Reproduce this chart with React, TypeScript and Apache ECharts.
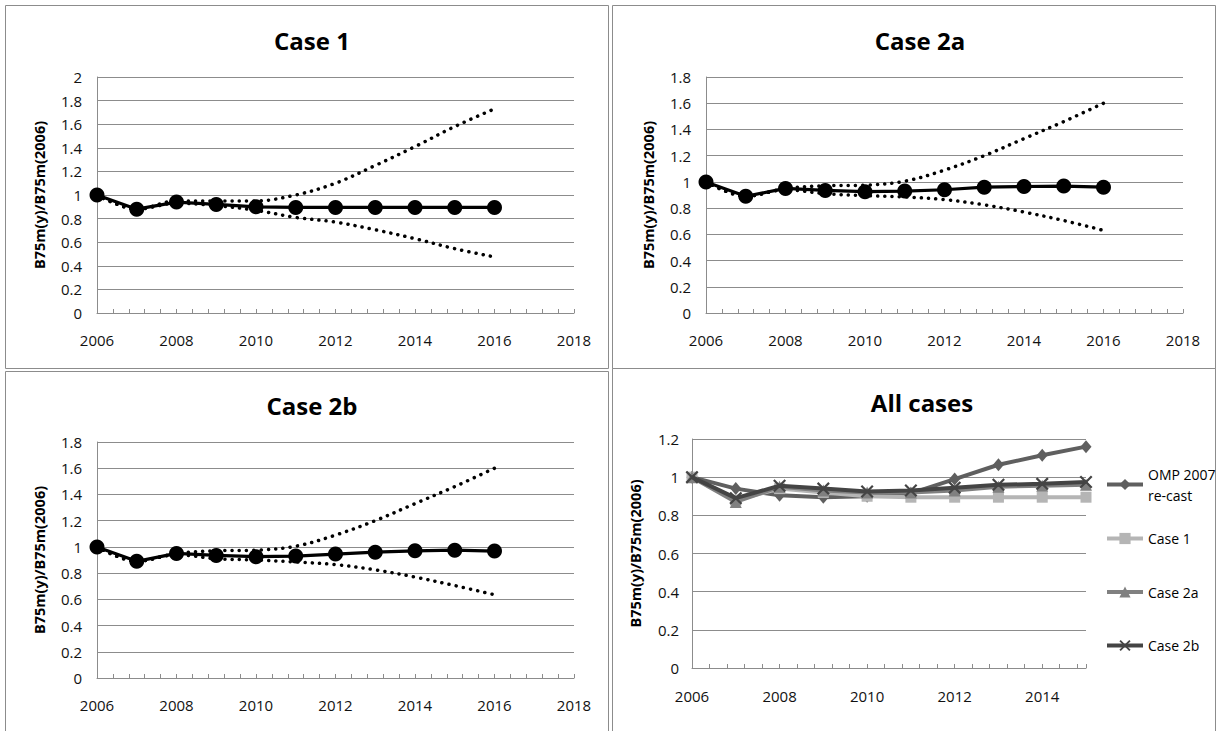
import React, { useEffect, useRef } from "react";
import * as echarts from "echarts";

// ---- data ----
const years = [2006, 2007, 2008, 2009, 2010, 2011, 2012, 2013, 2014, 2015, 2016];

const case1Central = [1.0, 0.88, 0.94, 0.92, 0.9, 0.895, 0.895, 0.895, 0.895, 0.895, 0.895];
const case1Upper = [1.0, 0.88, 0.95, 0.95, 0.95, 1.0, 1.1, 1.25, 1.41, 1.58, 1.73];
const case1Lower = [1.0, 0.88, 0.93, 0.91, 0.87, 0.81, 0.77, 0.705, 0.63, 0.545, 0.475];

const case2aCentral = [1.0, 0.89, 0.95, 0.935, 0.925, 0.93, 0.94, 0.96, 0.965, 0.968, 0.96];
const case2aUpper = [1.0, 0.89, 0.95, 0.97, 0.975, 1.005, 1.09, 1.2, 1.33, 1.46, 1.6];
const case2aLower = [1.0, 0.89, 0.94, 0.91, 0.895, 0.885, 0.865, 0.825, 0.77, 0.705, 0.63];

const case2bCentral = [1.0, 0.89, 0.95, 0.935, 0.925, 0.93, 0.945, 0.96, 0.97, 0.975, 0.968];
const case2bUpper = [1.0, 0.89, 0.95, 0.97, 0.975, 1.005, 1.09, 1.2, 1.33, 1.46, 1.6];
const case2bLower = [1.0, 0.89, 0.94, 0.91, 0.9, 0.885, 0.865, 0.825, 0.77, 0.705, 0.635];

const allYears = [2006, 2007, 2008, 2009, 2010, 2011, 2012, 2013, 2014, 2015];
const allOmp = [1.0, 0.94, 0.905, 0.895, 0.9, 0.915, 0.99, 1.065, 1.115, 1.16];
const allCase1 = [1.0, 0.88, 0.94, 0.92, 0.9, 0.895, 0.895, 0.895, 0.895, 0.895];
const allCase2a = [1.0, 0.87, 0.95, 0.93, 0.92, 0.92, 0.93, 0.95, 0.955, 0.96];
const allCase2b = [1.0, 0.89, 0.955, 0.94, 0.925, 0.93, 0.945, 0.96, 0.965, 0.975];

const panelTitles = ["Case 1", "Case 2a", "Case 2b", "All cases"];
const yMaxes = [2, 1.8, 1.8, 1.2];
const xMaxes = [2018, 2018, 2018, 2015];
const yAxisName = "B75m(y)/B75m(2006)";
const legendNames = ["OMP 2007 re-cast", "Case 1", "Case 2a", "Case 2b"];

const pairs = (xs: number[], ys: number[]) => ys.map((v, i) => [xs[i], v]);

const FONT = "Open Sans";
const GRID_COLOR = "#8c8c8c";

const xMarkPath =
  "path://M0,1.2 L1.2,0 L5,3.8 L8.8,0 L10,1.2 L6.2,5 L10,8.8 L8.8,10 L5,6.2 L1.2,10 L0,8.8 L3.8,5 Z";

export default function App() {
  const ref = useRef<HTMLDivElement>(null);

  useEffect(() => {
    if (!ref.current) return;
    const chart = echarts.init(ref.current, undefined, { renderer: "svg" });

    const grids = [
      { left: 97, top: 77, width: 477, height: 236 },
      { left: 706, top: 77, width: 477, height: 236 },
      { left: 97, top: 442, width: 477, height: 236 },
      { left: 692, top: 439, width: 394, height: 229 },
    ];

    const titlePos = [
      { left: 307, top: 23 },
      { left: 915, top: 23 },
      { left: 307, top: 388 },
      { left: 917, top: 385 },
    ];

    const xAxes = grids.map((_, i) => ({
      type: "value",
      gridIndex: i,
      min: 2006,
      max: xMaxes[i],
      interval: 2,
      axisLine: { show: true, lineStyle: { color: GRID_COLOR, width: 1 } },
      axisTick: { show: true, inside: true, length: 4, lineStyle: { color: GRID_COLOR } },
      minorTick: { show: true, splitNumber: 5, length: 4, lineStyle: { color: GRID_COLOR } },
      splitLine: { show: false },
      axisLabel: {
        margin: i === 3 ? 20 : 19,
        color: "#111",
        fontFamily: FONT,
        fontSize: 15,
        formatter: (v: number) => (v % 2 === 0 ? String(v) : ""),
      },
    }));

    const yAxes = grids.map((_, i) => ({
      type: "value",
      gridIndex: i,
      min: 0,
      max: yMaxes[i],
      interval: 0.2,
      name: yAxisName,
      nameLocation: "middle",
      nameGap: i === 3 ? 49 : 50,
      nameTextStyle: { fontFamily: FONT, fontWeight: "bold", fontSize: 14.5, color: "#000" },
      axisLine: { show: true, lineStyle: { color: GRID_COLOR, width: 1 } },
      axisTick: { show: false },
      splitLine: { show: true, lineStyle: { color: GRID_COLOR, width: 1 } },
      axisLabel: {
        margin: i === 3 ? 13 : 15,
        color: "#111",
        fontFamily: FONT,
        fontSize: 15,
      },
    }));

    const bandSeries = (idx: number, central: number[], upper: number[], lower: number[]) => [
      {
        type: "line",
        xAxisIndex: idx,
        yAxisIndex: idx,
        data: pairs(years, upper),
        smooth: 0.35,
        symbol: "none",
        lineStyle: { color: "#000", width: 3.5, type: [0.1, 7.2], cap: "round" },
        silent: true,
        z: 2,
      },
      {
        type: "line",
        xAxisIndex: idx,
        yAxisIndex: idx,
        data: pairs(years, lower),
        smooth: 0.35,
        symbol: "none",
        lineStyle: { color: "#000", width: 3.5, type: [0.1, 7.2], cap: "round" },
        silent: true,
        z: 2,
      },
      {
        type: "line",
        xAxisIndex: idx,
        yAxisIndex: idx,
        data: pairs(years, central),
        symbol: "circle",
        symbolSize: 15,
        itemStyle: { color: "#000" },
        lineStyle: { color: "#000", width: 3.2 },
        z: 3,
      },
    ];

    const allSeries = [
      {
        name: legendNames[0],
        type: "line",
        xAxisIndex: 3,
        yAxisIndex: 3,
        data: pairs(allYears, allOmp),
        symbol: "diamond",
        symbolSize: [11, 13],
        itemStyle: { color: "#5f5f5f" },
        lineStyle: { color: "#5f5f5f", width: 4 },
        z: 3,
      },
      {
        name: legendNames[1],
        type: "line",
        xAxisIndex: 3,
        yAxisIndex: 3,
        data: pairs(allYears, allCase1),
        symbol: "rect",
        symbolSize: 11,
        itemStyle: { color: "#b5b5b5" },
        lineStyle: { color: "#b5b5b5", width: 4 },
        z: 4,
      },
      {
        name: legendNames[2],
        type: "line",
        xAxisIndex: 3,
        yAxisIndex: 3,
        data: pairs(allYears, allCase2a),
        symbol: "triangle",
        symbolSize: 12,
        itemStyle: { color: "#808080" },
        lineStyle: { color: "#808080", width: 4 },
        z: 5,
      },
      {
        name: legendNames[3],
        type: "line",
        xAxisIndex: 3,
        yAxisIndex: 3,
        data: pairs(allYears, allCase2b),
        symbol: xMarkPath,
        symbolSize: 13,
        itemStyle: { color: "#444444" },
        lineStyle: { color: "#444444", width: 4 },
        z: 6,
      },
    ];

    const borders = [
      { x: 5.5, y: 5.5, w: 603, h: 363 },
      { x: 612.5, y: 5.5, w: 603, h: 363 },
      { x: 5.5, y: 371.5, w: 603, h: 370 },
      { x: 612.5, y: 368.5, w: 603, h: 370 },
    ];

    const legendCommon = {
      orient: "vertical",
      left: 1100,
      itemWidth: 36,
      itemHeight: 14,
      lineStyle: { width: 4 },
      textStyle: { fontFamily: FONT, fontSize: 14, color: "#000", lineHeight: 21 },
      selectedMode: false,
    };

    const option = {
      animation: false,
      backgroundColor: "#ffffff",
      textStyle: { fontFamily: FONT },
      title: panelTitles.map((t, i) => ({
        text: t,
        left: titlePos[i].left,
        top: titlePos[i].top,
        textAlign: "center",
        textStyle: { fontFamily: FONT, fontWeight: "bold", fontSize: 24, color: "#000" },
      })),
      grid: grids,
      xAxis: xAxes,
      yAxis: yAxes,
      legend: [
        {
          ...legendCommon,
          data: [
            {
              name: legendNames[0],
              textStyle: { padding: [21, 0, 0, 0] },
            },
          ],
          top: 448,
          formatter: (n: string) => (n === legendNames[0] ? "OMP 2007\nre-cast" : n),
        },
        {
          ...legendCommon,
          data: legendNames.slice(1),
          top: 523,
          itemGap: 32.5,
        },
      ],
      graphic: borders.map((b) => ({
        type: "rect",
        shape: { x: b.x, y: b.y, width: b.w, height: b.h },
        style: { fill: "none", stroke: "#8c8c8c", lineWidth: 1 },
        silent: true,
        z: -1,
      })),
      series: [
        ...bandSeries(0, case1Central, case1Upper, case1Lower),
        ...bandSeries(1, case2aCentral, case2aUpper, case2aLower),
        ...bandSeries(2, case2bCentral, case2bUpper, case2bLower),
        ...allSeries,
      ],
    };

    chart.setOption(option as any);
    return () => chart.dispose();
  }, []);

  return (
    <div
      ref={ref}
      style={{ position: "fixed", left: 0, top: 0, width: 1219, height: 731, background: "#fff" }}
    />
  );
}
